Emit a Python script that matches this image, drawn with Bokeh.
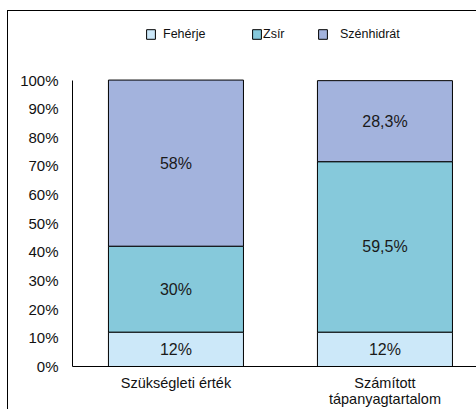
from bokeh.plotting import figure
from bokeh.models import (ColumnDataSource, Range1d, FixedTicker, Legend, LegendItem, InlineStyleSheet)
from bokeh.core.properties import value
from bokeh.embed import file_html
from bokeh.resources import INLINE

# ---- data ----
categories = ["Szükségleti érték", "Számított\ntápanyagtartalom"]
series = ["Fehérje", "Zsír", "Szénhidrát"]
feherje = [12, 12]
zsir = [30, 59.5]
szenhidrat = [58, 28.3]
colors = ["#CCE8F9", "#86C9DB", "#A3B3DD"]
y_ticks = [0, 10, 20, 30, 40, 50, 60, 70, 80, 90, 100]

FONT = "Liberation Sans"

xs = list(range(len(categories)))
src = ColumnDataSource(dict(x=xs, Fehérje=feherje, Zsír=zsir, Szénhidrát=szenhidrat))

p = figure(width=476, height=409, output_backend="svg", toolbar_location=None,
           x_range=Range1d(-0.495, 1.438), y_range=Range1d(0, 127.78),
           min_border_left=72, min_border_right=0, min_border_top=0, min_border_bottom=41)
p.outline_line_color = None
p.xgrid.visible = False
p.ygrid.visible = False
p.background_fill_color = "white"

# outer chart-area border (left and top edges visible in the crop)
p.stylesheets = [InlineStyleSheet(css="""
:host { position: relative; }
:host::after {
  content: ""; position: absolute; left: 7px; top: 10px; right: 0; bottom: 0;
  border-left: 1.5px solid #000; border-top: 1.5px solid #000;
  pointer-events: none; z-index: 100;
}
""")]

renderers = p.vbar_stack(series, x="x", width=0.646, source=src, color=colors,
                         line_color="black", line_width=1)

# segment labels
lx, ly, lt = [], [], []
def fmt(v):
    s = ("%g" % v).replace(".", ",")
    return s + "%"
for i in xs:
    base = 0
    for arr in (feherje, zsir, szenhidrat):
        v = arr[i]
        lx.append(i)
        ly.append(base + v / 2)
        lt.append(fmt(v))
        base += v
p.text(x=lx, y=ly, text=lt, text_align="center", text_baseline="middle",
       text_font=value(FONT), text_font_size="16px", text_color="#1a1a1a")

# axes
p.xaxis.ticker = FixedTicker(ticks=xs)
p.xaxis.major_label_overrides = {i: c for i, c in zip(xs, categories)}
p.xaxis.major_tick_line_color = None
p.xaxis.major_tick_out = 0
p.xaxis.major_tick_in = 0
p.xaxis.minor_tick_line_color = None
p.xaxis.major_label_text_font = FONT
p.xaxis.major_label_text_font_size = "14.5px"
p.xaxis.major_label_text_color = "#111111"
p.xaxis.major_label_standoff = 8
p.xaxis.major_label_text_line_height = 1.0
p.xaxis.axis_line_color = "black"

p.yaxis.ticker = FixedTicker(ticks=y_ticks)
p.yaxis.major_label_overrides = {t: f"{t}%" for t in y_ticks}
p.yaxis.bounds = (0, 100)
p.yaxis.major_tick_line_color = None
p.yaxis.major_tick_out = 0
p.yaxis.major_tick_in = 0
p.yaxis.minor_tick_line_color = None
p.yaxis.major_label_text_font = FONT
p.yaxis.major_label_text_font_size = "15px"
p.yaxis.major_label_text_color = "#111111"
p.yaxis.major_label_standoff = 14
p.yaxis.axis_line_color = "black"

# legends (individually positioned)
leg_pos = [(73, 325, 7), (179, 325, 1), (245, 325, 12)]
for r, name, (lxp, lyp, so) in zip(renderers, series, leg_pos):
    leg = Legend(items=[LegendItem(label=name, renderers=[r])], location=(lxp, lyp),
                 orientation="horizontal", padding=0, margin=0, spacing=0,
                 border_line_color=None, background_fill_alpha=0,
                 glyph_width=11, glyph_height=12, label_height=12, label_standoff=so,
                 label_text_font=FONT, label_text_font_size="12.5px",
                 label_text_color="#111111")
    p.add_layout(leg, "center")

open("out.html", "w").write(file_html(p, INLINE))
